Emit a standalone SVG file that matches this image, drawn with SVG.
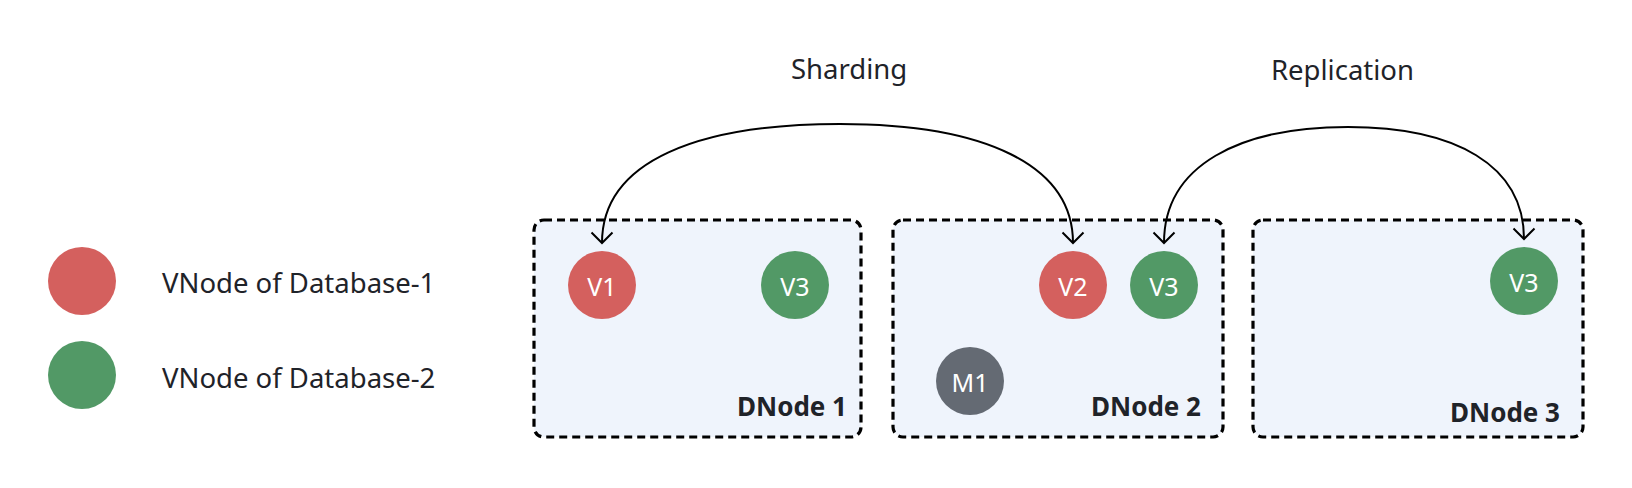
<svg xmlns="http://www.w3.org/2000/svg" width="1632" height="488" viewBox="0 0 1632 488">
  <style>
    .box { fill: #eff4fc; stroke: #000; stroke-width: 3.2; stroke-dasharray: 8 5; }
    .red { fill: #d4605e; }
    .green { fill: #529966; }
    .gray { fill: #646a73; }
    .vt { font-family: "Noto Sans", "Open Sans", sans-serif; font-size: 25px; fill: #ffffff; text-anchor: middle; }
    .lbl { font-family: "Noto Sans", "Open Sans", sans-serif; font-size: 27.5px; fill: #1f2329; }
    .dn { font-family: "Noto Sans", "Open Sans", sans-serif; font-size: 26px; font-weight: bold; fill: #1f2329; text-anchor: end; }
    .edge { fill: none; stroke: #000; stroke-width: 2; marker-start: url(#arr); marker-end: url(#arr); }
  </style>
  <defs>
    <marker id="arr" viewBox="-12 -12 24 24" markerWidth="24" markerHeight="24" refX="0" refY="0" orient="auto-start-reverse" markerUnits="userSpaceOnUse">
      <path d="M -10.5 -10.5 L 0 0 L -10.5 10.5" fill="none" stroke="#000" stroke-width="2"/>
    </marker>
  </defs>

  <g id="legend">
    <circle class="red" cx="82" cy="281" r="34"/>
    <text class="lbl" x="162" y="293">VNode of Database-1</text>
    <circle class="green" cx="82" cy="375" r="34"/>
    <text class="lbl" x="162" y="388">VNode of Database-2</text>
  </g>

  <g id="dnode1">
    <rect class="box" x="534" y="220" width="327" height="217" rx="10"/>
    <text class="dn" x="847" y="416">DNode 1</text>
  </g>
  <g id="dnode2">
    <rect class="box" x="893" y="220" width="330" height="217" rx="10"/>
    <text class="dn" x="1201" y="416">DNode 2</text>
  </g>
  <g id="dnode3">
    <rect class="box" x="1253" y="220" width="330" height="217" rx="10"/>
    <text class="dn" x="1560" y="422">DNode 3</text>
  </g>

  <g id="v1-dn1">
    <circle class="red" cx="602" cy="285" r="34"/>
    <text class="vt" x="602" y="296">V1</text>
  </g>
  <g id="v3-dn1">
    <circle class="green" cx="795" cy="285" r="34"/>
    <text class="vt" x="795" y="296">V3</text>
  </g>
  <g id="v2-dn2">
    <circle class="red" cx="1073" cy="285" r="34"/>
    <text class="vt" x="1073" y="296">V2</text>
  </g>
  <g id="v3-dn2">
    <circle class="green" cx="1164" cy="285" r="34"/>
    <text class="vt" x="1164" y="296">V3</text>
  </g>
  <g id="m1-dn2">
    <circle class="gray" cx="970" cy="381" r="34"/>
    <text class="vt" x="970" y="392">M1</text>
  </g>
  <g id="v3-dn3">
    <circle class="green" cx="1524" cy="281" r="34"/>
    <text class="vt" x="1524" y="292">V3</text>
  </g>

  <g id="connectors">
    <path class="edge" d="M 602 243 C 602 160, 700 124, 840 124 C 985 124, 1073 165, 1073 243"/>
    <text class="lbl" x="791" y="79">Sharding</text>
    <path class="edge" d="M 1164 243 C 1164 165, 1240 127, 1348 127 C 1455 127, 1524 165, 1524 239"/>
    <text class="lbl" x="1271" y="80">Replication</text>
  </g>
</svg>
